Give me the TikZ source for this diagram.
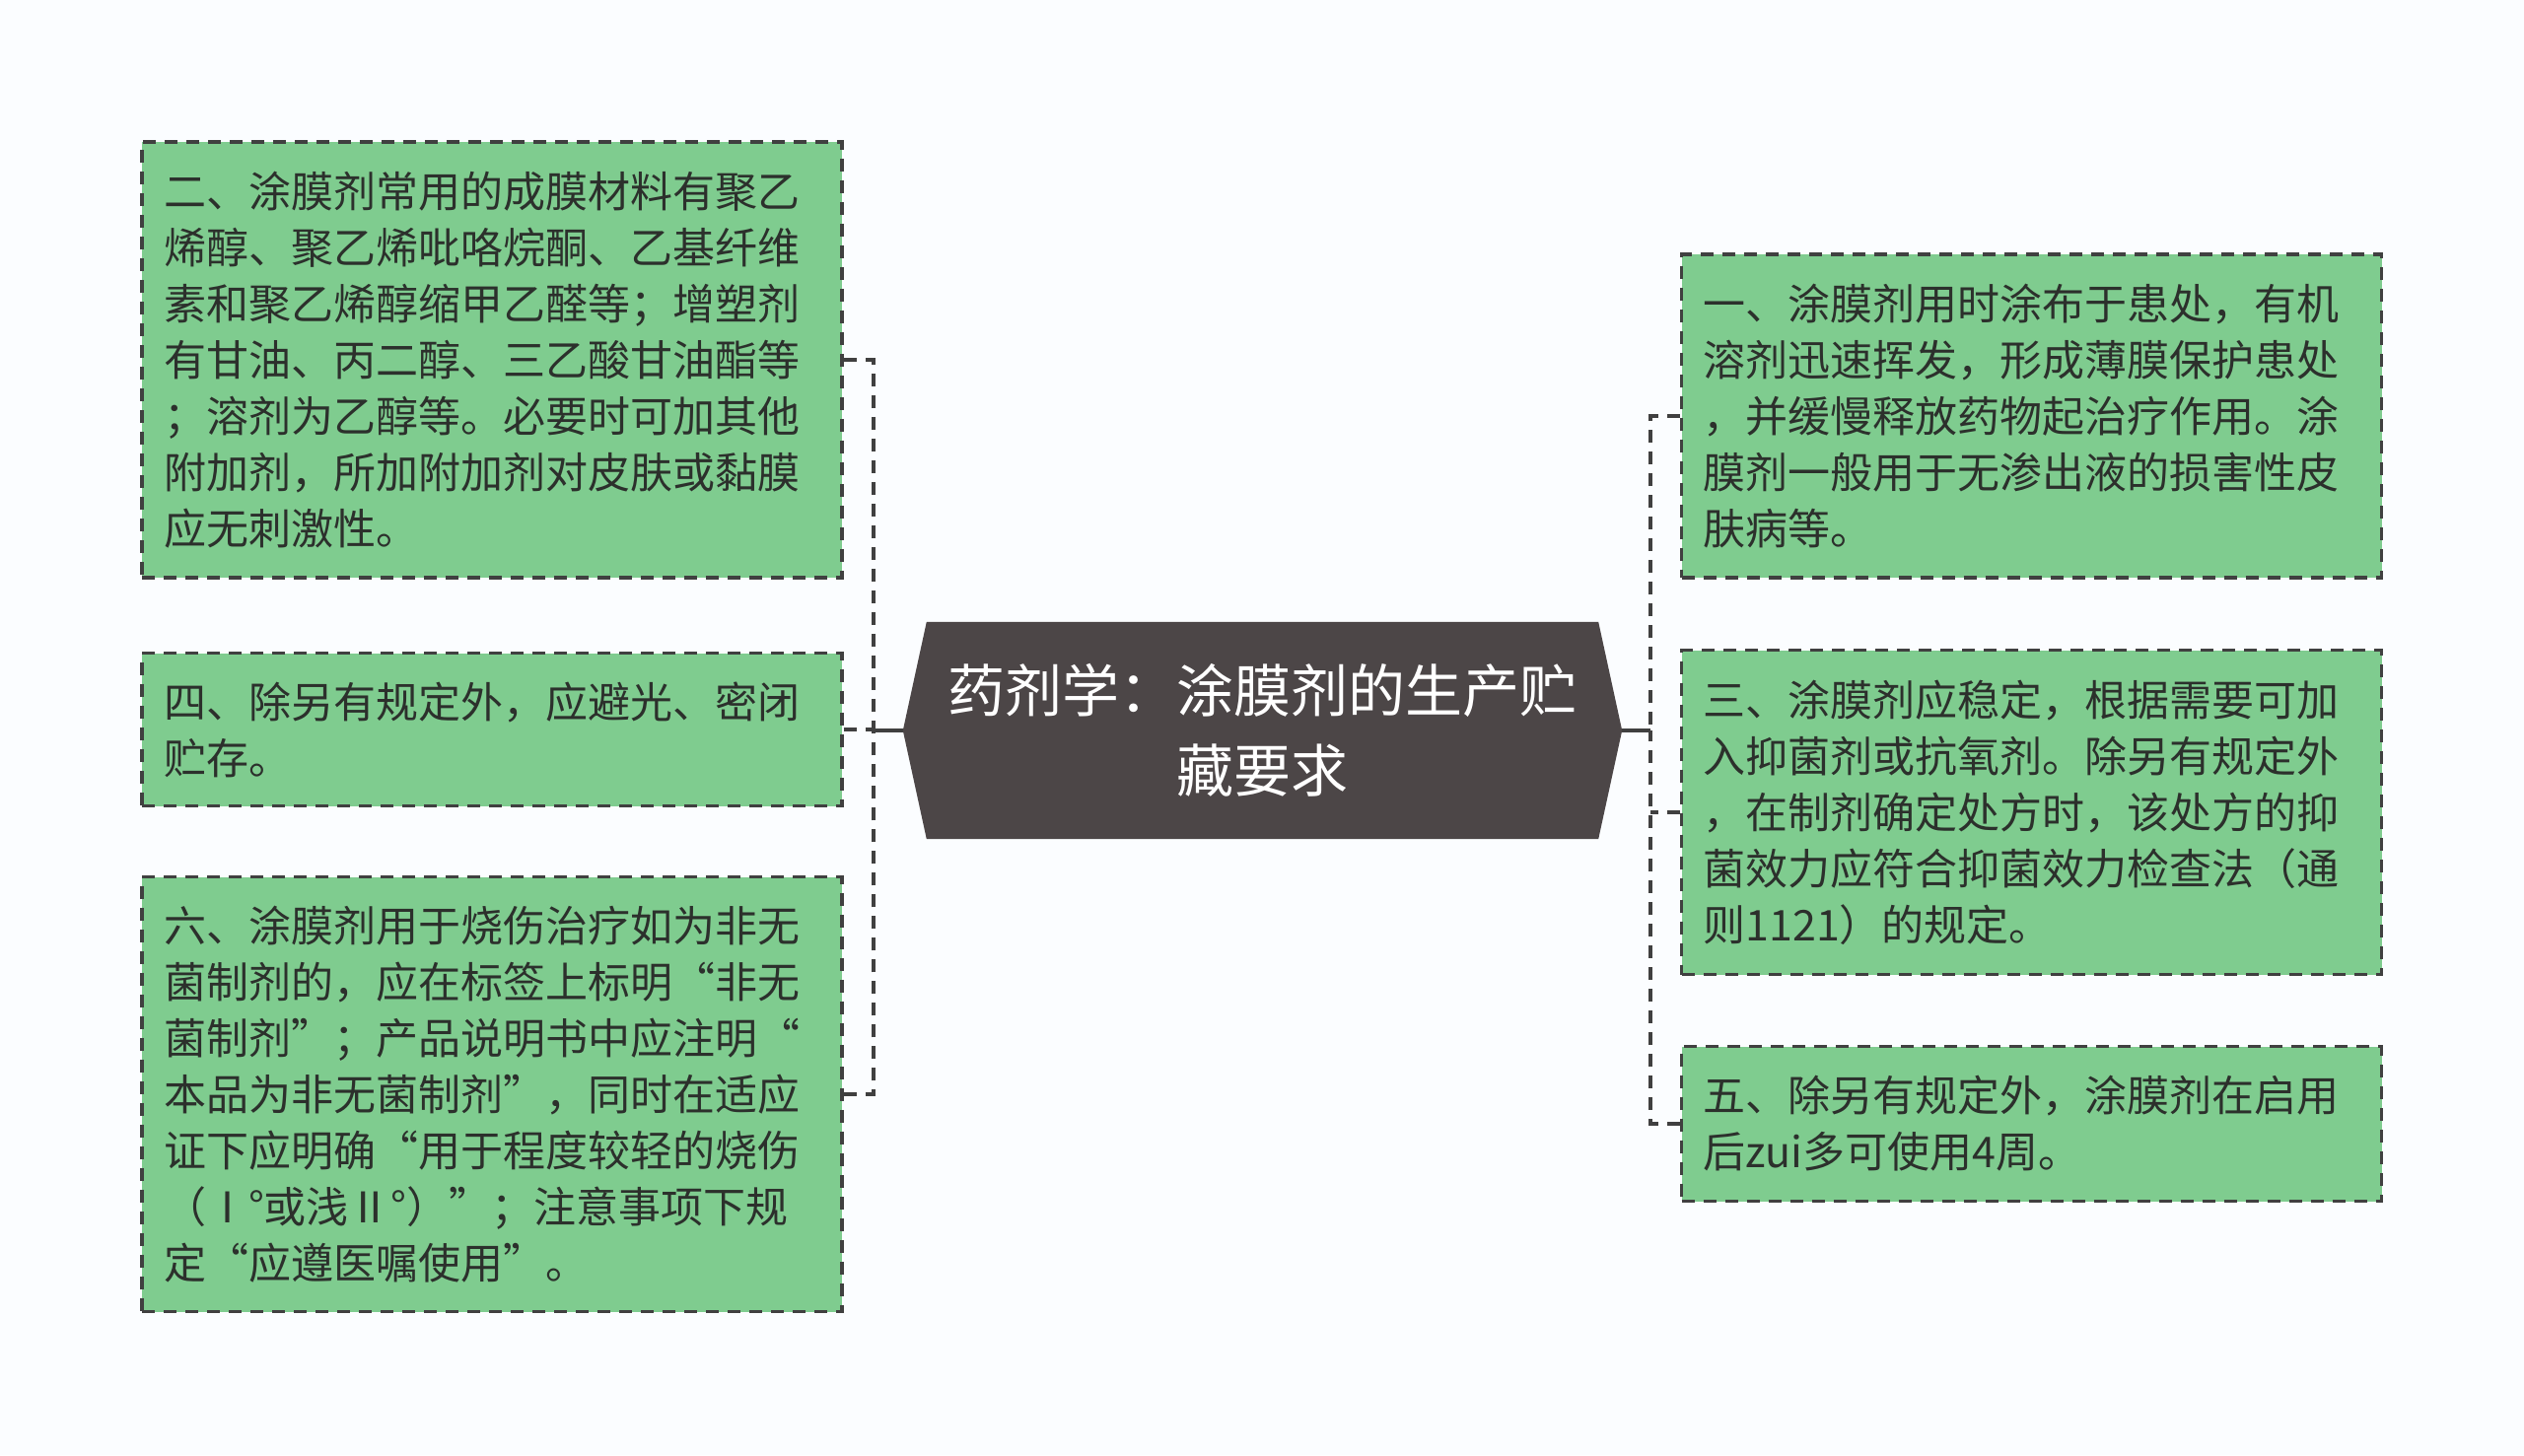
\documentclass[tikz,border=0pt]{standalone}
\usepackage{fontspec}
\setmainfont{Noto Sans CJK SC}
\usetikzlibrary{backgrounds}
\definecolor{bgcol}{RGB}{251,253,255}
\definecolor{leafgreen}{RGB}{127,204,143}
\definecolor{linecol}{RGB}{64,64,64}
\definecolor{txtcol}{RGB}{44,48,44}
\definecolor{centercol}{RGB}{76,70,71}
\tikzset{
  leafbox/.style={draw=linecol, line width=3.5pt, dash pattern=on 13pt off 9pt,
    fill=leafgreen, text=txtcol, text width=666pt, inner xsep=22pt, inner ysep=0pt,
    align=left, minimum height=#1, font=\fontsize{43}{57}\selectfont},
  centerbox/.style={text=white, align=center, minimum width=729pt, minimum height=220pt,
    inner sep=0pt, font=\fontsize{58}{81}\selectfont},
  conn/.style={draw=linecol, line width=4.5pt, dash pattern=on 13pt off 9pt},
  solidconn/.style={draw=linecol, line width=4.5pt}
}
\begin{document}
\begin{tikzpicture}[x=1pt,y=-1pt]
\useasboundingbox (0,0) rectangle (2560,1476);

\node[centerbox] (c) at (1280.5,741) {药剂学：涂膜剂的生产贮\\藏要求};
\begin{scope}[on background layer]
\fill[bgcol] (0,0) rectangle (2560,1476);
\fill[centercol] ([xshift=24pt]c.north west) -- ([xshift=-24pt]c.north east) -- (c.east)
  -- ([xshift=-24pt]c.south east) -- ([xshift=24pt]c.south west) -- (c.west) -- cycle;
\end{scope}

\node[leafbox=442pt] (L1) at (499,365) {二、涂膜剂常用的成膜材料有聚乙\\烯醇、聚乙烯吡咯烷酮、乙基纤维\\素和聚乙烯醇缩甲乙醛等；增塑剂\\有甘油、丙二醇、三乙酸甘油酯等\\；溶剂为乙醇等。必要时可加其他\\附加剂，所加附加剂对皮肤或黏膜\\应无刺激性。};
\node[leafbox=155pt] (L2) at (499,740) {四、除另有规定外，应避光、密闭\\贮存。};
\node[leafbox=441pt] (L3) at (499,1110) {六、涂膜剂用于烧伤治疗如为非无\\菌制剂的，应在标签上标明“非无\\菌制剂”；产品说明书中应注明“\\本品为非无菌制剂”，同时在适应\\证下应明确“用于程度较轻的烧伤\\（Ⅰ°或浅Ⅱ°）”；注意事项下规\\定“应遵医嘱使用”。};

\node[leafbox=328pt] (R1) at (2060.5,422) {一、涂膜剂用时涂布于患处，有机\\溶剂迅速挥发，形成薄膜保护患处\\，并缓慢释放药物起治疗作用。涂\\膜剂一般用于无渗出液的损害性皮\\肤病等。};
\node[leafbox=329pt] (R2) at (2060.5,824) {三、涂膜剂应稳定，根据需要可加\\入抑菌剂或抗氧剂。除另有规定外\\，在制剂确定处方时，该处方的抑\\菌效力应符合抑菌效力检查法（通\\则1121）的规定。};
\node[leafbox=157pt] (R3) at (2060.5,1140) {五、除另有规定外，涂膜剂在启用\\后zui多可使用4周。};

\coordinate (hubL) at (886,741);
\coordinate (hubR) at (1674,741);

\draw[solidconn] (c.west) -- (hubL);
\draw[conn] (L1.east) -| (hubL);
\draw[conn] (L3.east) -| (hubL);
\draw[conn] (L2.east) -- (L2.east -| hubL);

\draw[solidconn] (c.east) -- (hubR);
\draw[conn] (R1.west) -| (hubR);
\draw[conn] (R3.west) -| (hubR);
\draw[conn] (R2.west) -- (R2.west -| hubR);
\end{tikzpicture}
\end{document}
